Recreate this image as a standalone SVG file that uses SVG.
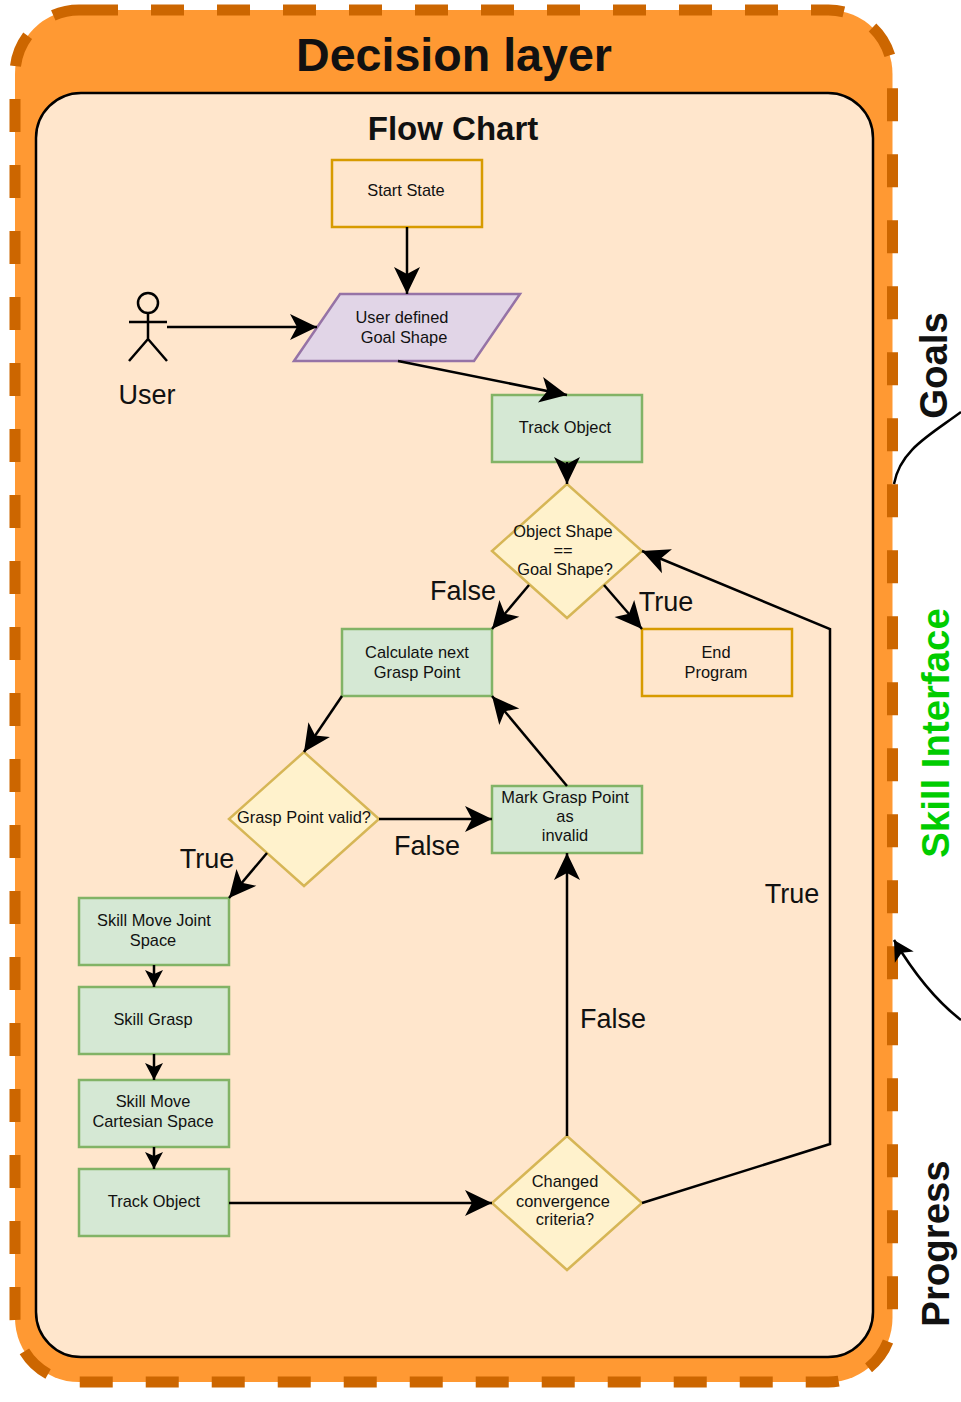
<svg xmlns="http://www.w3.org/2000/svg" width="961" height="1402" viewBox="0 0 961 1402">
<style>
text{font-family:"Liberation Sans",Arial,sans-serif;fill:#111;text-anchor:middle}
.n{font-size:16.4px}.l{font-size:27px}
.o{fill:#ffe6cc;stroke:#d79b00;stroke-width:2.5}
.g{fill:#d5e8d4;stroke:#82b366;stroke-width:2.5}
.y{fill:#fff2cc;stroke:#d6b656;stroke-width:2.5}
.p{fill:#e1d5e7;stroke:#9673a6;stroke-width:2.5}
.c{fill:none;stroke:#000;stroke-width:2.5}
.v{font-weight:bold;font-size:38.4px}
</style>
<defs>
<marker id="a" markerUnits="userSpaceOnUse" markerWidth="30" markerHeight="30" refX="27" refY="15" orient="auto" overflow="visible"><path d="M0,2 L27,15 L0,28 L7,15 Z" fill="#000"/></marker>
<marker id="b" markerUnits="userSpaceOnUse" markerWidth="20" markerHeight="20" refX="17" refY="10" orient="auto" overflow="visible"><path d="M0,1 L17,10 L0,19 L4,10 Z" fill="#000"/></marker>
<marker id="d" markerUnits="userSpaceOnUse" markerWidth="24" markerHeight="24" refX="20" refY="12" orient="auto" overflow="visible"><path d="M0,1 L20,12 L0,23 L5,12 Z" fill="#000"/></marker>
</defs>
<g id="decision-layer">
<path d="M85,10 H828.5 A64,64 0 0 1 892.5,74 V1318 A64,64 0 0 1 828.5,1382 H79 A64,64 0 0 1 15,1318 V74 A64,64 0 0 1 79,10 Z" fill="#ff9933" stroke="#cc6600" stroke-width="11" stroke-dasharray="33 33"/>
<text x="454" y="71" font-size="46.6" font-weight="bold">Decision layer</text>
</g>
<g id="flow-chart">
<rect x="36" y="93" width="837" height="1264" rx="45" fill="#ffe6cc" stroke="#000" stroke-width="2.5"/>
<text x="453" y="140" font-size="33" font-weight="bold">Flow Chart</text>
</g>
<g id="start-state"><rect class="o" x="332" y="160" width="150" height="67"/><text class="n" x="406" y="196">Start State</text></g>
<g id="user-actor" class="c"><circle cx="148" cy="303" r="10" fill="none"/><path d="M148,313 V339 M129,322 H167 M148,339 L129,361 M148,339 L167,361" fill="none"/></g>
<g id="user-label"><text class="l" x="147" y="404">User</text></g>
<g id="goal-shape"><path class="p" d="M294,361 L340,294 H520 L474,361 Z"/><text class="n" x="402" y="323">User defined</text><text class="n" x="404" y="343">Goal Shape</text></g>
<g id="track-object-1"><rect class="g" x="492" y="395" width="150" height="67"/><text class="n" x="565" y="433">Track Object</text></g>
<g id="shape-check"><path class="y" d="M567,484 L642,551 L567,618 L492,551 Z"/><text class="n" x="563" y="537">Object Shape</text><text class="n" x="563" y="556">==</text><text class="n" x="565" y="575">Goal Shape?</text></g>
<g id="calc-grasp"><rect class="g" x="342" y="629" width="150" height="67"/><text class="n" x="417" y="658">Calculate next</text><text class="n" x="417" y="678">Grasp Point</text></g>
<g id="end-program"><rect class="o" x="642" y="629" width="150" height="67"/><text class="n" x="716" y="658">End</text><text class="n" x="716" y="678">Program</text></g>
<g id="grasp-valid"><path class="y" d="M304,752 L379,819 L304,886 L229,819 Z"/><text class="n" x="304" y="823">Grasp Point valid?</text></g>
<g id="mark-invalid"><rect class="g" x="492" y="786" width="150" height="67"/><text class="n" x="565" y="803">Mark Grasp Point</text><text class="n" x="565" y="822">as</text><text class="n" x="565" y="841">invalid</text></g>
<g id="skill-joint"><rect class="g" x="79" y="898" width="150" height="67"/><text class="n" x="154" y="926">Skill Move Joint</text><text class="n" x="153" y="946">Space</text></g>
<g id="skill-grasp"><rect class="g" x="79" y="987" width="150" height="67"/><text class="n" x="153" y="1025">Skill Grasp</text></g>
<g id="skill-cartesian"><rect class="g" x="79" y="1080" width="150" height="67"/><text class="n" x="153" y="1107">Skill Move</text><text class="n" x="153" y="1127">Cartesian Space</text></g>
<g id="track-object-2"><rect class="g" x="79" y="1169" width="150" height="67"/><text class="n" x="154" y="1207">Track Object</text></g>
<g id="convergence"><path class="y" d="M567,1136 L642,1203 L567,1270 L492,1203 Z"/><text class="n" x="565" y="1187">Changed</text><text class="n" x="563" y="1207">convergence</text><text class="n" x="565" y="1225">criteria?</text></g>
<g id="connectors">
<path class="c" d="M407,227 V294" marker-end="url(#a)"/>
<path class="c" d="M167,327 H317" marker-end="url(#a)"/>
<path class="c" d="M398,361 L567,395" marker-end="url(#a)"/>
<path class="c" d="M567,462 V484" marker-end="url(#a)"/>
<path class="c" d="M529,585 L492,629" marker-end="url(#a)"/>
<path class="c" d="M604,585 L642,629" marker-end="url(#a)"/>
<path class="c" d="M342,696 L304,752" marker-end="url(#a)"/>
<path class="c" d="M379,819 H492" marker-end="url(#a)"/>
<path class="c" d="M567,786 L492,696" marker-end="url(#a)"/>
<path class="c" d="M267,853 L229,898" marker-end="url(#a)"/>
<path class="c" d="M154,965 V987" marker-end="url(#b)"/>
<path class="c" d="M154,1054 V1080" marker-end="url(#b)"/>
<path class="c" d="M154,1147 V1169" marker-end="url(#b)"/>
<path class="c" d="M229,1203 H492" marker-end="url(#a)"/>
<path class="c" d="M567,1136 V853" marker-end="url(#a)"/>
<path class="c" d="M642,1203 L830,1144 V629 L642,551" marker-end="url(#a)"/>
<path class="c" d="M894,484 C900,450 930,435 961,412"/>
<path class="c" d="M961,1020 C935,1000 915,975 894,940" marker-end="url(#d)"/>
</g>
<g id="labels">
<text class="l" x="463" y="600">False</text>
<text class="l" x="666" y="611">True</text>
<text class="l" x="207" y="868">True</text>
<text class="l" x="427" y="855">False</text>
<text class="l" x="792" y="903">True</text>
<text class="l" x="613" y="1028">False</text>
</g>
<g id="side-labels">
<text class="v" transform="translate(947,365.5) rotate(-90)">Goals</text>
<text class="v" transform="translate(949,733) rotate(-90)" style="fill:#00cc00">Skill Interface</text>
<text class="v" transform="translate(949,1243.5) rotate(-90)">Progress</text>
</g>
</svg>
